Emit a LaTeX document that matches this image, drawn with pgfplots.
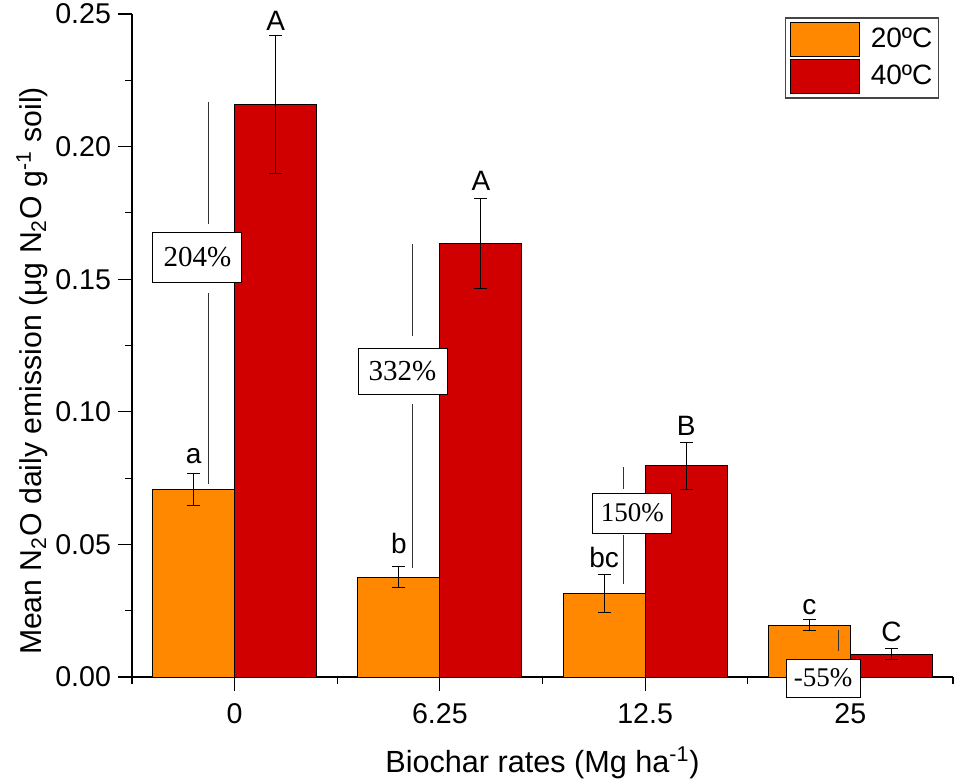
\documentclass[border=0pt]{standalone}
\usepackage{fontspec}
\setmainfont{Liberation Sans}
\newfontfamily\timesfont{Liberation Serif}
\usepackage{pgfplots}
\pgfplotsset{compat=1.18}
\definecolor{barorange}{RGB}{255,136,0}
\definecolor{barred}{RGB}{208,0,0}
\definecolor{legframe}{RGB}{70,70,70}
\pgfplotsset{
  myerr/.style={forget plot, draw=none, no marks, sharp plot,
    error bars/.cd, y dir=both, y explicit,
    error bar style={line width=0.5pt, black, solid},
    error mark options={rotate=90, mark size=3.25pt, line width=0.5pt, black, solid}},
}
\begin{document}
\begin{tikzpicture}
\useasboundingbox (-66pt,-52pt) rectangle (412.5pt,338.5pt);
\begin{axis}[
  at={(0,0)}, anchor=south west,
  scale only axis, width=410.5pt, height=331.5pt,
  xmin=-0.5, xmax=3.5, ymin=0, ymax=0.25,
  axis x line*=bottom, axis y line*=left,
  axis line style={line width=0.75pt, black},
  tick style={line width=0.6pt, black},
  tick align=outside,
  major tick length=7pt, minor tick length=3.5pt,
  xtick={0,1,2,3}, xticklabels={0,6.25,12.5,25},
  minor xtick={-0.5,0.5,1.5,2.5,3.5},
  ytick={0,0.05,0.1,0.15,0.2,0.25},
  minor ytick={0.025,0.075,0.125,0.175,0.225},
  yticklabel style={/pgf/number format/.cd, fixed, fixed zerofill, precision=2},
  /pgf/number format/assume math mode=true,
  ticklabel style={font=\fontsize{14.3}{16}\selectfont},
  xticklabel style={yshift=-2.5pt},
  xlabel={Biochar rates (Mg ha\textsuperscript{-1})},
  ylabel={Mean N\textsubscript{2}O daily emission (μg N\textsubscript{2}O g\textsuperscript{-1} soil)},
  every axis x label/.style={at={(axis description cs:0.5,0)}, anchor=base, yshift=-47.5pt, font=\fontsize{15.3}{17}\selectfont},
  every axis y label/.style={at={(axis description cs:-0.122,0.4615)}, rotate=90, anchor=center, font=\fontsize{15.1}{17}\selectfont},
  clip=false,
  bar width=0.4,
  legend style={at={(axis description cs:0.983,0.995)}, anchor=north east,
    draw=legframe, line width=0.6pt, inner xsep=2pt, inner ysep=2pt, row sep=1pt,
    nodes={inner sep=1pt, font=\fontsize{14}{16}\selectfont}},
  legend cell align=left,
]
\addplot[ybar, bar shift=-0.2, fill=barorange, draw=black, line width=0.5pt,
  legend image code/.code={\draw[fill=barorange, draw=black, line width=0.5pt] (0pt,-8.5pt) rectangle (34.5pt,8.5pt); \path (39pt,0pt);}]
coordinates {(0,0.0707) (1,0.0376) (2,0.0315) (3,0.0195)};
\addlegendentry{20ºC}
\addplot[ybar, bar shift=0.2, fill=barred, draw=black, line width=0.5pt,
  legend image code/.code={\draw[fill=barred, draw=black, line width=0.5pt] (0pt,-8.5pt) rectangle (34.5pt,8.5pt); \path (39pt,0pt);}]
coordinates {(0,0.2158) (1,0.1636) (2,0.0796) (3,0.0086)};
\addlegendentry{40ºC}
% error bars at the bar centres
\addplot[myerr] coordinates {
  (-0.2,0.0707) +- (0,0.0060)
  (0.8,0.0376) +- (0,0.0040)
  (1.8,0.0315) +- (0,0.0070)
  (2.8,0.0195) +- (0,0.0020)
};
\addplot[myerr] coordinates {
  (0.2,0.2158) +- (0,0.0260)
  (1.2,0.1636) +- (0,0.0170)
  (2.2,0.0796) +- (0,0.0090)
  (3.2,0.0086) +- (0,0.0020)
};
% annotation lines
\addplot[forget plot, sharp plot, no marks, black!80, line width=0.5pt] coordinates {(-0.125,0.2167) (-0.125,0.1707)};
\addplot[forget plot, sharp plot, no marks, black!80, line width=0.5pt] coordinates {(-0.125,0.1447) (-0.125,0.0727)};
\addplot[forget plot, sharp plot, no marks, black!80, line width=0.5pt] coordinates {(0.869,0.1632) (0.869,0.1285)};
\addplot[forget plot, sharp plot, no marks, black!80, line width=0.5pt] coordinates {(0.869,0.1029) (0.869,0.0411)};
\addplot[forget plot, sharp plot, no marks, black!80, line width=0.5pt] coordinates {(1.897,0.0791) (1.897,0.0710)};
\addplot[forget plot, sharp plot, no marks, black!80, line width=0.5pt] coordinates {(1.897,0.0534) (1.897,0.0350)};
\addplot[forget plot, sharp plot, no marks, black!80, line width=0.5pt] coordinates {(2.943,0.0177) (2.943,0.0098)};
% letters
\begin{scope}[every node/.style={font=\fontsize{14}{16}\selectfont, anchor=base, inner sep=0pt}]
\node at (axis cs:-0.2,0.0806) {a};
\node at (axis cs:0.2,0.2438) {A};
\node at (axis cs:0.8,0.0467) {b};
\node at (axis cs:1.2,0.1835) {A};
\node at (axis cs:1.8,0.0414) {bc};
\node at (axis cs:2.2,0.0912) {B};
\node at (axis cs:2.8,0.0234) {c};
\node at (axis cs:3.2,0.0132) {C};
\end{scope}
% percent boxes
\node[draw=black, fill=white, line width=0.5pt, inner sep=0pt, minimum width=44.5pt, minimum height=25pt, font=\timesfont\fontsize{14.5}{16}\selectfont] at (axis cs:-0.181,0.1583) {204\%};
\node[draw=black, fill=white, line width=0.5pt, inner sep=0pt, minimum width=44.5pt, minimum height=23pt, font=\timesfont\fontsize{14.5}{16}\selectfont] at (axis cs:0.818,0.1153) {332\%};
\node[draw=black, fill=white, line width=0.5pt, inner sep=0pt, minimum width=39.5pt, minimum height=20pt, font=\timesfont\fontsize{13.5}{15}\selectfont] at (axis cs:1.938,0.0618) {150\%};
\node[draw=black, fill=white, line width=0.5pt, inner sep=0pt, minimum width=37pt, minimum height=19pt, font=\timesfont\fontsize{13.5}{15}\selectfont] at (axis cs:2.867,-0.0004) {-55\%};
\end{axis}
\end{tikzpicture}
\end{document}
